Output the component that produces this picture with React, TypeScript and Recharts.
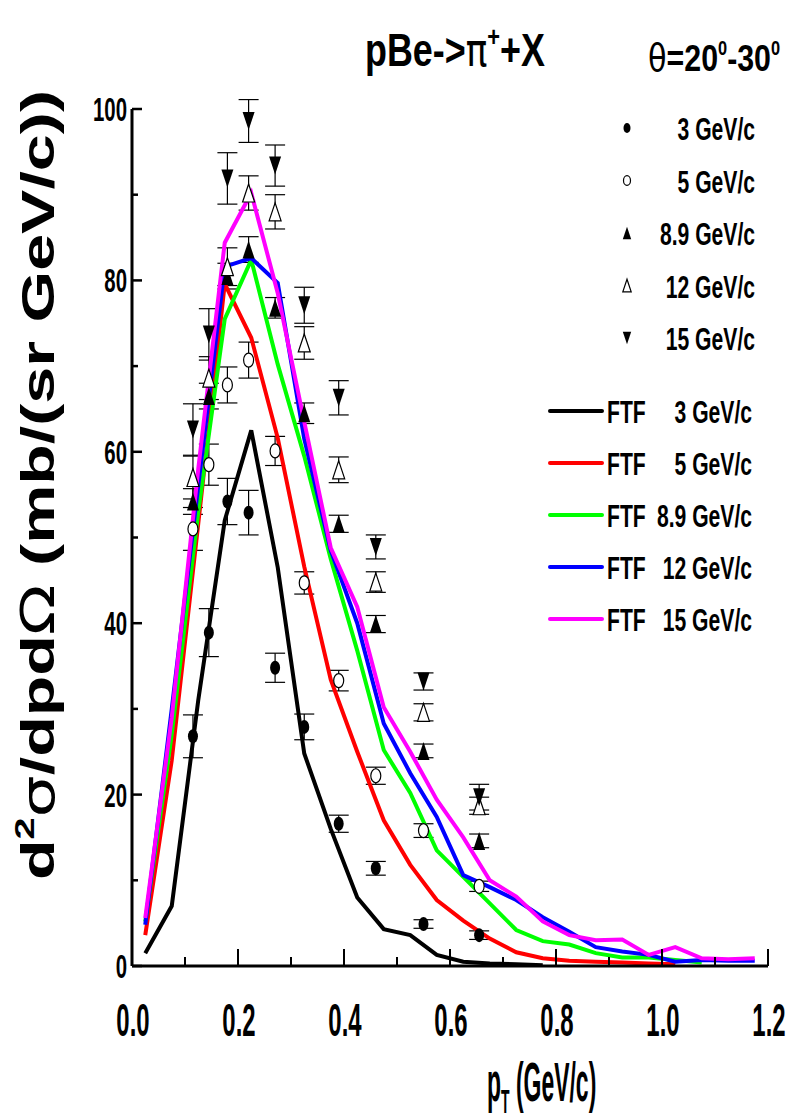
import React from 'react';
import { ComposedChart, Line, Scatter, XAxis, YAxis, ErrorBar } from 'recharts';

// measured pT points (GeV/c)
const expPt = [0.115, 0.145, 0.18, 0.22, 0.27, 0.325, 0.39, 0.46, 0.55, 0.655];
const exp3 = [26.8, 38.9, 54.2, 52.9, 34.8, 27.9, 16.6, 11.4, 4.9, 3.6];
const err3 = [2.5, 2.8, 2.7, 2.6, 1.7, 1.5, 1.0, 0.8, 0.5, 0.5];
const exp5 = [51.0, 58.5, 67.8, 70.7, 60.1, 44.7, 33.3, 22.2, 15.8, 9.3];
const err5 = [2.5, 2.4, 2.1, 2.1, 1.7, 1.3, 1.2, 1.0, 0.8, 0.6];
const exp89 = [54.2, 66.5, 80.5, 83.6, 76.8, 64.5, 51.6, 39.9, 25.1, 14.6];
const err89 = [1.5, 1.5, 1.5, 1.5, 1.2, 1.2, 1.0, 1.0, 0.8, 0.8];
const exp12 = [57.0, 68.6, 81.6, 90.2, 88.0, 72.7, 57.9, 44.8, 29.6, 18.7];
const err12 = [2.5, 2.5, 2.2, 2.0, 2.0, 1.9, 1.5, 1.2, 1.0, 1.0];
const exp15 = [62.6, 73.7, 91.9, 98.6, 93.4, 77.1, 66.3, 48.9, 33.2, 19.7];
const err15 = [3.0, 3.0, 3.0, 2.5, 2.4, 2.1, 2.0, 1.4, 1.0, 1.5];

// FTF model, bin centres
const ftfPt = [0.025, 0.075, 0.125, 0.175, 0.225, 0.275, 0.325, 0.375, 0.425, 0.475, 0.525, 0.575,
  0.625, 0.675, 0.725, 0.775, 0.825, 0.875, 0.925, 0.975, 1.025, 1.075, 1.125, 1.175];
const ftf3 = [1.5, 7.0, 31, 52, 62.5, 46.5, 24.8, 16, 8.0, 4.3, 3.6, 1.3, 0.5, 0.3, 0.2, 0.1];
const ftf5 = [3.6, 24, 51.6, 79.6, 73.3, 61.6, 46.6, 33.4, 25, 17, 11.8, 7.7, 5.3, 3.2, 1.6, 0.9,
  0.6, 0.5, 0.4, 0.3, 0.2];
const ftf89 = [5.2, 27, 53, 75.5, 82.4, 70.2, 59.5, 47.5, 36.8, 25.2, 20.2, 13.5, 10.4, 7.3, 4.2, 2.9,
  2.5, 1.5, 1.0, 1.0, 0.7, 0.4];
const ftf12 = [4.8, 30, 56, 81.6, 82.6, 79.7, 61.5, 48.5, 40, 28.3, 22.5, 17.4, 10.6, 9.2, 7.7, 5.7,
  4.0, 2.2, 1.7, 1.3, 0.5, 0.7, 0.6, 0.6];
const ftf15 = [5.6, 29, 58, 84.4, 90.2, 78.5, 63.5, 48.8, 41.9, 30.2, 25, 19.4, 15, 10, 8.1, 5.2,
  3.6, 3.0, 3.1, 1.3, 2.2, 0.9, 0.8, 0.9];

const xTicks = [0, 0.1, 0.2, 0.3, 0.4, 0.5, 0.6, 0.7, 0.8, 0.9, 1.0, 1.1, 1.2];
const yTicks = [0, 10, 20, 30, 40, 50, 60, 70, 80, 90, 100];

const dataLegend = ['3 GeV/c', '5 GeV/c', '8.9 GeV/c', '12 GeV/c', '15 GeV/c'];
const ftfLegend = ['3 GeV/c', '5 GeV/c', '8.9 GeV/c', '12 GeV/c', '15 GeV/c'];
const ftfColors = ['#000000', '#ff0000', '#00ff00', '#0000ff', '#ff00ff'];

const FONT = '"Liberation Sans", Arial, Helvetica, sans-serif';
const SYM = '"DejaVu Sans", "Liberation Serif", serif';

type Pt = { x: number; y: number; err?: number };
const zip = (xs: number[], ys: number[], errs?: number[]): Pt[] =>
  ys.map((y, i) => ({ x: xs[i], y, err: errs ? errs[i] : undefined }));

type Kind = 'dot' | 'ring' | 'up' | 'upOpen' | 'down';

function Marker({ kind, cx, cy, s = 1 }: { kind: Kind; cx: number; cy: number; s?: number }) {
  const w = 6 * s;
  const h = 9 * s;
  switch (kind) {
    case 'dot':
      return <ellipse cx={cx} cy={cy} rx={5 * s} ry={7 * s} fill="#000" />;
    case 'ring':
      return <ellipse cx={cx} cy={cy} rx={5 * s} ry={7 * s} fill="#fff" stroke="#000" strokeWidth={1.2} />;
    case 'up':
      return <polygon points={`${cx},${cy - h} ${cx - w},${cy + h} ${cx + w},${cy + h}`} fill="#000" />;
    case 'upOpen':
      return (
        <polygon points={`${cx},${cy - h} ${cx - w},${cy + h} ${cx + w},${cy + h}`}
          fill="#fff" stroke="#000" strokeWidth={1.2} />
      );
    default:
      return <polygon points={`${cx},${cy + h} ${cx - w},${cy - h} ${cx + w},${cy - h}`} fill="#000" />;
  }
}

// condensed bold text, squeezed horizontally like the Origin font
function Narrow(props: {
  x: number; y: number; size: number; sx?: number; anchor?: 'start' | 'middle' | 'end';
  children: React.ReactNode;
}) {
  const { x, y, size, sx = 0.62, anchor = 'start', children } = props;
  return (
    <text transform={`translate(${x},${y}) scale(${sx},1)`} fontFamily={FONT} fontWeight="bold"
      fontSize={size} textAnchor={anchor} fill="#000">
      {children}
    </text>
  );
}

function YTick(props: any) {
  const { x, y, payload } = props;
  const v = payload.value as number;
  const major = v % 20 === 0;
  return (
    <g>
      <line x1={x} x2={x + (major ? 10 : 6)} y1={y} y2={y} stroke="#000" strokeWidth={2.5} />
      {major && <Narrow x={x - 5} y={y + 12} size={34} sx={0.6} anchor="end">{v}</Narrow>}
    </g>
  );
}

function XTick(props: any) {
  const { x, y, payload } = props;
  const v = payload.value as number;
  const major = Math.round(v * 10) % 2 === 0;
  return (
    <g>
      <line x1={x} x2={x} y1={y} y2={y - (major ? 17 : 9)} stroke="#000" strokeWidth={2} />
      {major && <Narrow x={x + 1} y={y + 70} size={46} sx={0.52} anchor="middle">{v.toFixed(1)}</Narrow>}
    </g>
  );
}

const series: { name: string; kind: Kind; data: Pt[] }[] = [
  { name: '3 GeV/c', kind: 'dot', data: zip(expPt, exp3, err3) },
  { name: '5 GeV/c', kind: 'ring', data: zip(expPt, exp5, err5) },
  { name: '8.9 GeV/c', kind: 'up', data: zip(expPt, exp89, err89) },
  { name: '12 GeV/c', kind: 'upOpen', data: zip(expPt, exp12, err12) },
  { name: '15 GeV/c', kind: 'down', data: zip(expPt, exp15, err15) },
];

const models = [ftf3, ftf5, ftf89, ftf12, ftf15].map((ys) => zip(ftfPt, ys));

export default function App() {
  const kinds: Kind[] = ['dot', 'ring', 'up', 'upOpen', 'down'];
  return (
    <div style={{ position: 'absolute', left: 0, top: 0, width: 800, height: 1120, background: '#fff' }}>
      <ComposedChart width={800} height={1120} margin={{ top: 109, right: 32, bottom: 0, left: 0 }}>
        <XAxis type="number" dataKey="x" domain={[0, 1.2]} ticks={xTicks} allowDataOverflow
          height={154} tickSize={0} tickMargin={0} tickLine={false} interval={0}
          axisLine={{ stroke: '#000', strokeWidth: 3 }} tick={<XTick />} />
        <YAxis type="number" dataKey="y" domain={[0, 100]} ticks={yTicks} allowDataOverflow
          width={132} tickSize={0} tickMargin={0} tickLine={false} interval={0}
          axisLine={{ stroke: '#000', strokeWidth: 3 }} tick={<YTick />} />
        {series.map((s) => (
          <Scatter key={s.name} name={s.name} data={s.data} isAnimationActive={false}
            shape={(p: any) => <Marker kind={s.kind} cx={p.cx} cy={p.cy} />}>
            <ErrorBar dataKey="err" direction="y" width={10} stroke="#000" strokeWidth={1.2}
              isAnimationActive={false} />
          </Scatter>
        ))}
        {models.map((d, i) => (
          <Line key={i} data={d} dataKey="y" type="linear" stroke={ftfColors[i]} strokeWidth={4}
            dot={false} activeDot={false} isAnimationActive={false} name={`FTF ${ftfLegend[i]}`} />
        ))}
      </ComposedChart>

      <svg width={800} height={1120} style={{ position: 'absolute', left: 0, top: 0, pointerEvents: 'none' }}>
        {/* title */}
        <text transform="translate(365,66) scale(0.78,1)" fontFamily={FONT} fontWeight="bold" fontSize={46}>
          pBe-&gt;<tspan fontFamily={SYM} fontWeight="normal">π</tspan>
          <tspan dy={-20} fontSize={28}>+</tspan>
          <tspan dy={20}>+X</tspan>
        </text>
        <text transform="translate(648,71) scale(0.82,1)" fontFamily={FONT} fontWeight="bold" fontSize={37}>
          <tspan fontFamily={SYM} fontWeight="normal">θ</tspan>=20<tspan dy={-16} fontSize={20}>0</tspan>
          <tspan dy={16}>-30</tspan><tspan dy={-16} fontSize={20}>0</tspan>
        </text>

        {/* data legend */}
        {dataLegend.map((t, i) => (
          <g key={t}>
            <Marker kind={kinds[i]} cx={627} cy={128 + i * 52.5} s={0.7} />
            <Narrow x={755} y={140 + i * 52.5} size={32} sx={0.66} anchor="end">{t}</Narrow>
          </g>
        ))}

        {/* model legend */}
        {ftfLegend.map((t, i) => (
          <g key={i}>
            <line x1={550} x2={602} y1={411 + i * 52} y2={411 + i * 52} stroke={ftfColors[i]}
              strokeWidth={4} strokeLinecap="round" />
            <Narrow x={607} y={423 + i * 52} size={32} sx={0.66}>FTF</Narrow>
            <Narrow x={752} y={423 + i * 52} size={32} sx={0.66} anchor="end">{t}</Narrow>
          </g>
        ))}

        {/* y axis title */}
        <text transform="translate(54,485) rotate(-90)" fontFamily={FONT} fontWeight="bold" fontSize={47}
          textAnchor="middle" textLength={790} lengthAdjust="spacingAndGlyphs">
          d<tspan dy={-20} fontSize={28}>2</tspan><tspan dy={20} fontFamily={SYM} fontWeight="normal">σ</tspan>/dpd
          <tspan fontFamily={SYM} fontWeight="normal">Ω</tspan> (mb/(sr GeV/c))
        </text>

        {/* x axis title */}
        <text transform="translate(487,1101) scale(0.41,1)" fontFamily={FONT} fontWeight="bold" fontSize={56}>
          p<tspan dy={12} fontSize={34}>T</tspan><tspan dy={-12}> (GeV/c)</tspan>
        </text>
      </svg>
    </div>
  );
}
